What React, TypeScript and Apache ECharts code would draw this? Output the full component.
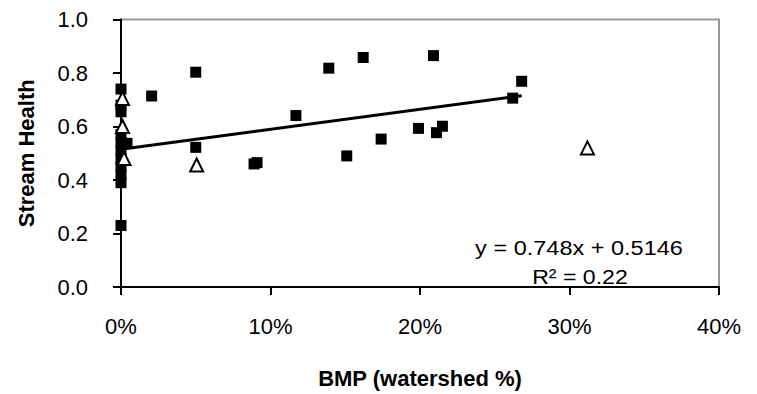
import React, { useEffect, useRef } from "react";
import * as echarts from "echarts";

// BMP share of watershed (fraction) and stream health, filled squares
const squareX = [0, 0, 0, 0, 0, 0, 0, 0, 0, 0, 0, 0.004, 0.0205, 0.05, 0.05, 0.089, 0.091, 0.117, 0.139, 0.151, 0.162, 0.174, 0.199, 0.209, 0.211, 0.215, 0.262, 0.268];
const squareY = [0.74, 0.68, 0.655, 0.57, 0.54, 0.51, 0.48, 0.45, 0.42, 0.39, 0.23, 0.537, 0.714, 0.803, 0.522, 0.46, 0.465, 0.641, 0.818, 0.49, 0.858, 0.553, 0.593, 0.865, 0.577, 0.601, 0.706, 0.769];
// open triangles
const triX = [0.001, 0.001, 0.002, 0.0506, 0.312];
const triY = [0.705, 0.6, 0.48, 0.456, 0.52];
// linear trendline y = slope*x + intercept, over the squares' range
const slope = 0.748;
const intercept = 0.5146;
const trendRange = [0, 0.268];
const xTicks = [0, 0.1, 0.2, 0.3, 0.4];
const yTicks = [0, 0.2, 0.4, 0.6, 0.8, 1.0];
const eqText = "y = 0.748x + 0.5146";
const r2Text = "R\u00B2 = 0.22";

const FONT = "'Liberation Sans', Arial, sans-serif";

export default function App() {
  const ref = useRef<HTMLDivElement>(null);
  useEffect(() => {
    document.body.style.margin = "0";
    const chart = echarts.init(ref.current!, null, { renderer: "svg" });
    const trend = trendRange.map((x) => [x, slope * x + intercept]);
    chart.setOption({
      animation: false,
      backgroundColor: "#ffffff",
      grid: {
        left: 121,
        right: 38,
        top: 19.5,
        bottom: 100.5,
        show: true,
        borderColor: "#9a9a9a",
        borderWidth: 2,
      },
      xAxis: {
        type: "value",
        min: xTicks[0],
        max: xTicks[xTicks.length - 1],
        interval: 0.1,
        name: "BMP (watershed %)",
        nameLocation: "middle",
        nameGap: 80,
        nameTextStyle: { fontFamily: FONT, fontSize: 22, fontWeight: "bold", color: "#000" },
        axisLine: { lineStyle: { color: "#000", width: 2 } },
        axisTick: { show: true, length: 8, lineStyle: { color: "#000", width: 2 } },
        axisLabel: {
          margin: 28,
          fontFamily: FONT,
          fontSize: 22,
          color: "#000",
          formatter: (v: number) => Math.round(v * 100) + "%",
        },
        splitLine: { show: false },
      },
      yAxis: {
        type: "value",
        min: yTicks[0],
        max: yTicks[yTicks.length - 1],
        interval: 0.2,
        name: "Stream Health",
        nameLocation: "middle",
        nameGap: 84,
        nameTextStyle: { fontFamily: FONT, fontSize: 22, fontWeight: "bold", color: "#000" },
        axisLine: { show: true, lineStyle: { color: "#000", width: 2 } },
        axisTick: { show: true, length: 8, lineStyle: { color: "#000", width: 2 } },
        axisLabel: {
          margin: 33,
          fontFamily: FONT,
          fontSize: 22,
          color: "#000",
          formatter: (v: number) => v.toFixed(1),
        },
        splitLine: { show: false },
      },
      series: [
        {
          type: "line",
          data: trend,
          showSymbol: false,
          symbol: "none",
          lineStyle: { color: "#000", width: 3 },
          z: 2,
        },
        {
          type: "scatter",
          data: squareX.map((x, i) => [x, squareY[i]]),
          symbol: "rect",
          symbolSize: 11,
          itemStyle: { color: "#000", opacity: 1 },
          z: 3,
        },
        {
          type: "scatter",
          data: triX.map((x, i) => [x, triY[i]]),
          symbol: "triangle",
          symbolSize: 13,
          itemStyle: { color: "#fff", borderColor: "#000", borderWidth: 2, opacity: 1 },
          z: 4,
        },
      ],
      graphic: [
        {
          type: "text",
          x: 579,
          y: 248,
          scaleX: 1.12,
          originX: 0,
          originY: 0,
          style: {
            text: eqText,
            font: `21px ${FONT}`,
            fill: "#000",
            textAlign: "center",
            textVerticalAlign: "middle",
          },
          z: 10,
        },
        {
          type: "text",
          x: 580,
          y: 277,
          scaleX: 1.1,
          originX: 0,
          originY: 0,
          style: {
            text: r2Text,
            font: `21px ${FONT}`,
            fill: "#000",
            textAlign: "center",
            textVerticalAlign: "middle",
          },
          z: 10,
        },
      ],
    });
    return () => chart.dispose();
  }, []);
  return <div ref={ref} style={{ position: "fixed", left: 0, top: 0, width: 757, height: 394 }} />;
}
